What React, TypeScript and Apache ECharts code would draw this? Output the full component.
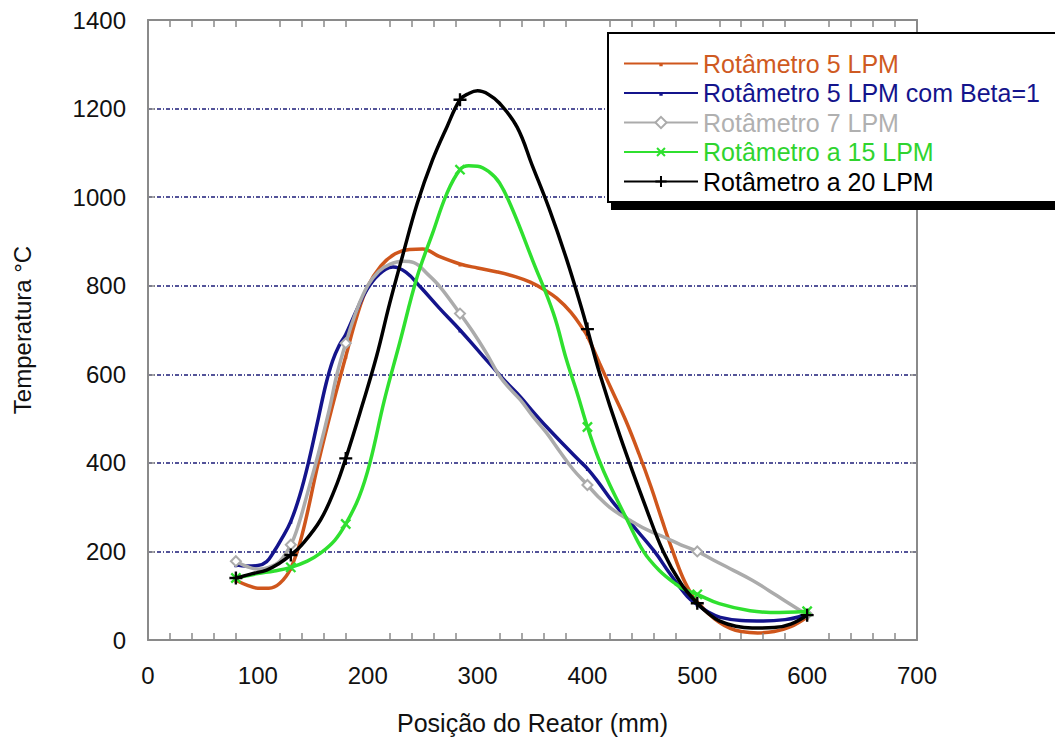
import React, { useEffect, useRef } from 'react';
import * as echarts from 'echarts';

// x: Posição do Reator (mm), y: Temperatura °C
const ROT5: number[][] = [
  [80, 135], [90, 124], [100, 117], [110, 117], [120, 128], [130, 162], [140, 235], [155, 400], [167, 520],
  [180, 640], [190, 730], [200, 798], [212, 845], [225, 872], [238, 882], [250, 883], [265, 866], [284, 849],
  [300, 840], [318, 831], [335, 820], [348, 808], [360, 792], [372, 772], [385, 740], [396, 702], [400, 686],
  [411, 625], [423, 560], [435, 495], [447, 420], [458, 345], [468, 270], [477, 205], [487, 140], [496, 98],
  [500, 86], [510, 60], [520, 40], [530, 26], [540, 19], [555, 16], [570, 19], [585, 30], [600, 52],
];
const ROT5_BETA: number[][] = [
  [80, 170], [90, 167], [100, 168], [108, 177], [114, 197], [122, 230], [130, 268], [138, 325], [146, 400],
  [155, 500], [162, 578], [168, 630], [174, 665], [180, 690], [190, 745], [199, 790], [210, 825], [223, 842],
  [235, 830], [248, 797], [265, 750], [284, 700], [300, 655], [311, 624], [325, 585], [339, 549], [350, 517],
  [363, 481], [380, 437], [393, 404], [400, 387], [410, 356], [423, 312], [440, 262], [461, 200], [475, 150],
  [491, 98], [500, 80], [510, 63], [521, 51], [540, 44], [560, 43], [580, 46], [592, 52], [600, 60],
];
const ROT7: number[][] = [
  [80, 178], [90, 166], [100, 160], [110, 164], [120, 178], [130, 215], [137, 260], [145, 330], [155, 420],
  [165, 520], [172, 600], [180, 670], [190, 745], [200, 800], [210, 832], [220, 848], [232, 855], [242, 852],
  [255, 825], [266, 797], [284, 737], [296, 695], [308, 648], [320, 596], [330, 566], [339, 542], [350, 506],
  [363, 467], [375, 425], [387, 385], [400, 350], [410, 323], [420, 300], [430, 283], [441, 267], [455, 248],
  [470, 232], [485, 215], [500, 200], [515, 180], [530, 161], [550, 135], [565, 112], [580, 88], [593, 68], [600, 58],
];
const ROT15: number[][] = [
  [80, 140], [90, 145], [100, 150], [115, 156], [130, 164], [145, 178], [157, 196], [170, 225], [180, 262],
  [192, 322], [202, 400], [215, 540], [229, 670], [245, 820], [259, 918], [272, 1008], [284, 1062], [292, 1071],
  [300, 1070], [310, 1058], [320, 1032], [332, 971], [350, 858], [369, 738], [381, 632], [391, 555], [400, 481],
  [410, 410], [420, 352], [436, 272], [451, 200], [465, 158], [480, 127], [490, 112], [500, 103], [520, 82],
  [548, 66], [575, 62], [590, 63], [600, 65],
];
const ROT20: number[][] = [
  [80, 140], [95, 150], [108, 158], [120, 174], [130, 192], [140, 215], [157, 271], [170, 340], [180, 410],
  [195, 530], [208, 640], [220, 760], [232, 870], [245, 985], [259, 1084], [272, 1158], [284, 1220], [292, 1234],
  [300, 1240], [310, 1232], [320, 1212], [336, 1158], [350, 1070], [365, 975], [381, 860], [396, 738], [400, 702],
  [411, 603], [430, 458], [454, 294], [469, 200], [485, 128], [500, 83], [510, 60], [520, 43], [535, 31],
  [550, 27], [570, 28], [585, 36], [600, 56],
];

const MARK_X = [80, 130, 180, 284, 400, 500, 600];
const SERIES_NAMES = [
  'Rotâmetro 5 LPM',
  'Rotâmetro 5 LPM com Beta=1',
  'Rotâmetro 7 LPM',
  'Rotâmetro a 15 LPM',
  'Rotâmetro a 20 LPM',
];
const X_AXIS = { min: 0, max: 700, interval: 100 };
const Y_AXIS = { min: 0, max: 1400, interval: 200 };
const X_NAME = 'Posição do Reator (mm)';
const Y_NAME = 'Temperatura °C';

const LINE_COLORS = ['#cf561c', '#14148c', '#ababab', '#2fe02f', '#000000'];
const TEXT_COLORS = ['#cf5a22', '#14148c', '#b0b0b0', '#2fd42f', '#000000'];

const FONT = '"Liberation Sans", Arial, sans-serif';
const PLUS = 'path://M0,4.1H10V5.9H0Z M4.1,0H5.9V10H4.1Z';
// small dot centred in a 10x10 box (degenerate corner segments only fix the box)
const DOT = 'path://M0,0L0.01,0 M10,10L9.99,10 M3.5,4.5H6.5V7.5H3.5Z';

export default function App() {
  const ref = useRef<HTMLDivElement>(null);
  useEffect(() => {
    if (!ref.current) return;
    const chart = echarts.init(ref.current, undefined, { renderer: 'svg' });
    const frame = '#8a8a8a';
    const gridLine = { show: true, lineStyle: { color: '#1c1c78', width: 1.5, type: [4, 2, 1, 2] as any } };
    const markSize = (s: any) => (v: any) => (MARK_X.includes(v[0]) ? s : 0);
    const datasets = [ROT5, ROT5_BETA, ROT7, ROT15, ROT20];
    const symbols = [
      { symbol: DOT, size: 10, rotate: 0 },
      { symbol: DOT, size: 10, rotate: 0 },
      { symbol: 'emptyDiamond', size: 10, rotate: 0 },
      { symbol: PLUS, size: 13, rotate: 45 },
      { symbol: PLUS, size: 13, rotate: 0 },
    ];
    const xCommon = {
      type: 'value', ...X_AXIS,
      axisLine: { show: true, onZero: false, lineStyle: { color: frame, width: 2 } },
      axisTick: { show: false, inside: true },
      minorTick: { show: true, splitNumber: 5, length: 7, lineStyle: { color: frame, width: 1.5 } },
      splitLine: { show: false },
      z: 3,
    };
    const yCommon = {
      type: 'value', ...Y_AXIS,
      axisLine: { show: true, onZero: false, lineStyle: { color: frame, width: 2 } },
      axisTick: { show: true, inside: true, length: 7, lineStyle: { color: frame, width: 1.5 } },
    };
    chart.setOption({
      animation: false,
      backgroundColor: '#ffffff',
      grid: { left: 148, right: 138, top: 20, bottom: 107, containLabel: false },
      xAxis: [
        {
          ...xCommon, position: 'bottom',
          axisLabel: { show: true, margin: 23, fontSize: 24, fontFamily: FONT, color: '#111', formatter: (v: number) => String(v) },
          name: X_NAME, nameLocation: 'middle', nameGap: 70,
          nameTextStyle: { fontSize: 25, fontFamily: FONT, color: '#111' },
        },
        { ...xCommon, position: 'top', axisLabel: { show: false } },
      ],
      yAxis: [
        {
          ...yCommon, position: 'left',
          axisLabel: { show: true, margin: 22, fontSize: 24, fontFamily: FONT, color: '#111', formatter: (v: number) => String(v) },
          splitLine: gridLine,
          name: Y_NAME, nameLocation: 'middle', nameGap: 114,
          nameTextStyle: { fontSize: 24, fontFamily: FONT, color: '#111' },
        },
        { ...yCommon, position: 'right', axisLabel: { show: false }, splitLine: { show: false } },
      ],
      graphic: [
        { type: 'rect', z: 5, shape: { x: 611, y: 41, width: 480, height: 169 }, style: { fill: '#000' } },
        { type: 'rect', z: 6, shape: { x: 608, y: 33, width: 480, height: 169 }, style: { fill: '#fff', stroke: '#000', lineWidth: 2 } },
      ],
      legend: {
        orient: 'vertical', left: 623, top: 51, padding: 0,
        itemWidth: 74, itemHeight: 14, itemGap: 4.5,
        selectedMode: false, z: 10,
        textStyle: { fontSize: 25, lineHeight: 24, fontFamily: FONT },
        data: SERIES_NAMES.map((n, i) => ({ name: n, textStyle: { color: TEXT_COLORS[i] } })),
      },
      series: datasets.map((d, i) => ({
        name: SERIES_NAMES[i],
        type: 'line',
        data: d,
        smooth: 0.4,
        showSymbol: true,
        symbol: symbols[i].symbol,
        symbolSize: markSize(symbols[i].size),
        symbolRotate: symbols[i].rotate,
        lineStyle: { color: LINE_COLORS[i], width: 3.5 },
        itemStyle: { color: LINE_COLORS[i], borderColor: LINE_COLORS[i], borderWidth: i === 2 ? 1.5 : 0 },
        emphasis: { disabled: true },
        z: 2 + i,
      })),
    });
    return () => chart.dispose();
  }, []);
  return (
    <div
      ref={ref}
      style={{ position: 'fixed', left: 0, top: 0, width: 1055, height: 747, background: '#fff' }}
    />
  );
}
